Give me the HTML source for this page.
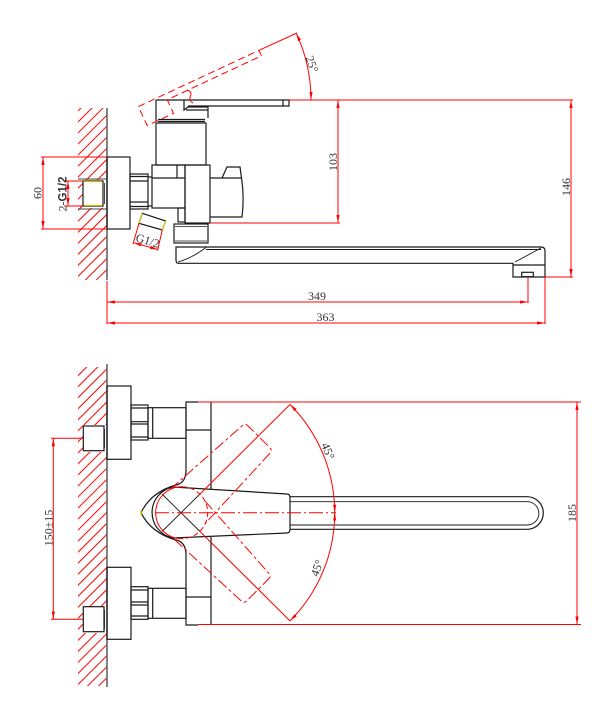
<!DOCTYPE html>
<html><head><meta charset="utf-8"><style>
html,body{margin:0;padding:0;background:#fff;}
svg{display:block;}
text{font-family:"Liberation Serif",serif;font-size:12px;fill:#333;}
</style></head><body>
<svg width="615" height="720" viewBox="0 0 615 720" xmlns="http://www.w3.org/2000/svg">
<defs>
<pattern id="hp" width="7.8" height="7.8" patternUnits="userSpaceOnUse" patternTransform="rotate(45)"><line x1="1" y1="0" x2="1" y2="7.8" stroke="#f00" stroke-width="1"/></pattern>
<marker id="ar" viewBox="0 0 10 4" refX="10" refY="2" markerWidth="8" markerHeight="3.2" markerUnits="userSpaceOnUse" orient="auto-start-reverse"><path d="M0,0L10,2L0,4z" fill="#f00"/></marker>
</defs>
<rect width="615" height="720" fill="#fff"/>

<!-- ============ TOP VIEW ============ -->
<rect x="78" y="108" width="29" height="172" fill="url(#hp)"/>
<rect x="83" y="180" width="24" height="28" fill="#fff"/>
<line x1="107" y1="108" x2="107" y2="280" stroke="#666" stroke-width="1.6"/>
<g stroke="#444" stroke-width="0.9">
<line x1="78" y1="179" x2="107" y2="179"/>
<line x1="78" y1="209" x2="107" y2="209"/>
</g>

<g fill="none" stroke="#1a1a1a" stroke-width="1.2">
<!-- fitting in wall -->
<rect x="83" y="181" width="20" height="25" fill="#fff"/>
<line x1="104.5" y1="183" x2="104.5" y2="204" stroke-width="0.8"/>
<!-- escutcheon -->
<rect x="107" y="157" width="23" height="72"/>
<!-- nipple -->
<rect x="130" y="174" width="18" height="35"/>
<line x1="130" y1="176.5" x2="148" y2="176.5"/>
<line x1="130" y1="181" x2="148" y2="181"/>
<line x1="130" y1="202" x2="148" y2="202"/>
<line x1="130" y1="206.5" x2="148" y2="206.5"/>
<line x1="148" y1="177" x2="152" y2="177"/>
<line x1="148" y1="206" x2="152" y2="206"/>
<!-- column -->
<rect x="156" y="123" width="50" height="42"/>
<line x1="158" y1="119.5" x2="205" y2="119.5"/>
<line x1="158" y1="121.5" x2="205" y2="121.5"/>
<!-- handle -->
<path d="M156,100 H289 V106 H188 M156,100 V121 M283,100 V106 M184,100 V110 L188,107 H208 V118 M186,110 H208"/>
<!-- body -->
<rect x="152" y="165" width="33" height="43"/>
<line x1="152" y1="178" x2="185" y2="178"/>
<line x1="177" y1="165" x2="177" y2="178"/>
<rect x="178" y="208" width="7" height="14"/>
<rect x="185" y="165" width="25" height="58"/>
<!-- knob -->
<path d="M210,178 H241.5 Q244.5,197 242,217 H210"/>
<path d="M222,178 L227,167 H240 L241.5,178"/>
<!-- nut -->
<rect x="174" y="224" width="34" height="19"/>
<line x1="175" y1="226.5" x2="207" y2="226.5" stroke-width="0.8"/>
<line x1="175" y1="241" x2="207" y2="241" stroke-width="0.8"/>
<!-- spout -->
<path d="M178,263.3 Q176,263 176,260 V247 H541 Q545,247 545,251 V277 H513 V263.3 Z"/>
<line x1="206" y1="249.5" x2="541" y2="249.5" stroke-width="0.9"/>
<line x1="513" y1="265" x2="545" y2="265"/>
<rect x="521.7" y="272.3" width="11.6" height="4.4"/>
<path d="M178,262 Q192,258 206,247.5" stroke-width="0.9"/>
<path d="M515,262 Q528,255 541,248" stroke-width="0.9"/>
<!-- angled G1/2 fitting -->
<polygon points="142.3,213.3 165.7,221 162.3,230 139,223.3" fill="#fff"/>
</g>
<line x1="165.7" y1="221" x2="162.3" y2="230" stroke="#e6d200" stroke-width="1.2"/>
<line x1="142.3" y1="213.3" x2="139" y2="223.3" stroke="#e6d200" stroke-width="1"/>
<line x1="84" y1="181.6" x2="102" y2="181.6" stroke="#e6d200" stroke-width="1"/>
<line x1="84" y1="205.4" x2="102" y2="205.4" stroke="#e6d200" stroke-width="1"/>

<!-- red dims top view -->
<g fill="none" stroke="#f00" stroke-width="1">
<path transform="rotate(-25 162 143)" d="M156,100 H289 V106 H185 V121 H156 Z" stroke-dasharray="7,4"/>
<path d="M187,90 Q193,92 190,97 Q189,101 193,103"/>
<line x1="259" y1="50.3" x2="297" y2="33"/>
<path d="M311,100 A158,158 0 0 0 296.2,33.2" marker-start="url(#ar)" marker-end="url(#ar)"/>
<line x1="289" y1="100" x2="573" y2="100"/>
<line x1="338" y1="100" x2="338" y2="223" marker-start="url(#ar)" marker-end="url(#ar)"/>
<line x1="210" y1="223" x2="340" y2="223"/>
<line x1="571" y1="100" x2="571" y2="277" marker-start="url(#ar)" marker-end="url(#ar)"/>
<line x1="545" y1="277" x2="573" y2="277"/>
<line x1="107" y1="281" x2="107" y2="324"/>
<line x1="528" y1="277" x2="528" y2="303"/>
<line x1="545" y1="277" x2="545" y2="324"/>
<line x1="107" y1="302" x2="528" y2="302" marker-start="url(#ar)" marker-end="url(#ar)"/>
<line x1="107" y1="323" x2="545" y2="323" marker-start="url(#ar)" marker-end="url(#ar)"/>
<!-- 60 -->
<line x1="41" y1="157" x2="107" y2="157"/>
<line x1="41" y1="229" x2="107" y2="229"/>
<line x1="43" y1="157" x2="43" y2="229" marker-start="url(#ar)" marker-end="url(#ar)"/>
<!-- 2-G1/2 -->
<line x1="64" y1="181" x2="83" y2="181"/>
<line x1="64" y1="206" x2="83" y2="206"/>
<line x1="68" y1="181" x2="68" y2="206" marker-start="url(#ar)" marker-end="url(#ar)"/>
<!-- G1/2 angled -->
<line x1="139" y1="223.3" x2="133" y2="244"/>
<line x1="162.3" y1="230" x2="157.5" y2="250.5"/>
<line x1="133.5" y1="242.7" x2="158" y2="249.5" marker-start="url(#ar)" marker-end="url(#ar)"/>
</g>

<!-- texts top view -->
<text transform="translate(41.5,193) rotate(-90)" text-anchor="middle">60</text>
<text transform="translate(66.5,194) rotate(-90)" text-anchor="middle">2-<tspan font-family="Liberation Sans" font-weight="bold" font-size="11.5">G1/2</tspan></text>
<text transform="translate(146.5,244.5) rotate(17)" text-anchor="middle" font-size="11.5">G1/2</text>
<text transform="translate(312,64) rotate(70)" text-anchor="middle" dominant-baseline="central" font-size="11.5">25°</text>
<text transform="translate(337,162) rotate(-90)" text-anchor="middle">103</text>
<text transform="translate(570,187) rotate(-90)" text-anchor="middle">146</text>
<text x="317" y="300" text-anchor="middle">349</text>
<text x="325.5" y="321" text-anchor="middle">363</text>

<!-- ============ BOTTOM VIEW ============ -->
<rect x="78" y="367" width="29" height="319" fill="url(#hp)"/>
<rect x="83" y="425" width="24" height="27" fill="#fff"/>
<rect x="83" y="606" width="24" height="27" fill="#fff"/>
<line x1="107" y1="364" x2="107" y2="687" stroke="#666" stroke-width="1.6"/>

<g fill="none" stroke="#1a1a1a" stroke-width="1.2">
<!-- fittings -->
<rect x="83.3" y="426" width="20.7" height="24.7" fill="#fff"/>
<rect x="83.3" y="606.7" width="20.7" height="25" fill="#fff"/>
<line x1="104.5" y1="429" x2="104.5" y2="448" stroke-width="0.8"/>
<line x1="104.5" y1="610" x2="104.5" y2="629" stroke-width="0.8"/>
<!-- escutcheons -->
<rect x="107" y="386" width="24" height="73.3"/>
<rect x="107" y="567.3" width="24" height="72"/>
<!-- nipples -->
<rect x="131" y="405" width="17" height="35"/>
<line x1="131" y1="408" x2="148" y2="408"/>
<line x1="131" y1="421.7" x2="148" y2="421.7"/>
<line x1="131" y1="424" x2="148" y2="424"/>
<line x1="131" y1="437" x2="148" y2="437"/>
<rect x="131" y="586.7" width="17" height="32.6"/>
<line x1="131" y1="590" x2="148" y2="590"/>
<line x1="131" y1="602" x2="148" y2="602"/>
<line x1="131" y1="605" x2="148" y2="605"/>
<line x1="131" y1="616" x2="148" y2="616"/>
<!-- connectors -->
<rect x="148" y="407.7" width="38" height="30.6"/>
<line x1="152.7" y1="407.7" x2="152.7" y2="438.3"/>
<rect x="148" y="588.3" width="38" height="30"/>
<line x1="152.7" y1="588.3" x2="152.7" y2="618.3"/>
<!-- body -->
<path d="M198,402 H186 V470 Q186,483 176,485 Q151,492 141,512.7 Q151,533 176,540 Q186,542 186,555 V625 H198"/>
<path d="M211,402 V490 M211,537 V625"/>
<line x1="186" y1="430" x2="211" y2="430"/>
<line x1="186" y1="597" x2="211" y2="597"/>
<!-- handle lever -->
<path d="M287,494 L173,487 A26,26 0 0 0 173,538 L287,533 Q290,533 290,529 V498 Q290,494 287,494 Z" fill="#fff"/>
<!-- rod -->
<path d="M290,496.7 H527 A16.3,16.3 0 0 1 527,529.3 H290"/>
<path d="M290,501.7 H528 A12,11.7 0 0 1 528,525 H290" stroke-width="0.9"/>
<!-- black X -->
<line x1="162" y1="494" x2="200" y2="531.5" stroke-width="0.9"/>
<line x1="162" y1="531.5" x2="200" y2="494" stroke-width="0.9"/>
</g>
<path d="M141,510 V515" stroke="#e6d200" stroke-width="1.5"/>

<g fill="none" stroke="#f00" stroke-width="1">
<line x1="198" y1="402" x2="581" y2="402"/>
<line x1="198" y1="624.5" x2="581" y2="624.5"/>
<line x1="577" y1="402" x2="577" y2="624.5" marker-start="url(#ar)" marker-end="url(#ar)"/>
<!-- handle circle -->
<path d="M181.7,486.7 A26,26 0 0 0 181.7,538.7"/>
<path d="M181.7,486.7 A26,26 0 0 1 181.7,538.7" stroke-dasharray="5,3"/>
<!-- rotated handles -->
<path transform="rotate(-45 181.7 512.7)" d="M190,488 L287,494 Q290,494 290,498 V529 Q290,533 287,533 L190,537" stroke-dasharray="11,3,3,3"/>
<path transform="rotate(45 181.7 512.7)" d="M190,488 L287,494 Q290,494 290,498 V529 Q290,533 287,533 L190,537" stroke-dasharray="11,3,3,3"/>
<!-- 45 deg lines -->
<line x1="200" y1="494" x2="290" y2="404.5"/>
<line x1="200" y1="531.5" x2="290" y2="620.9"/>
<line x1="155" y1="512.7" x2="336" y2="512.7" stroke-dasharray="14,3,2,3"/>
<path d="M290,404.5 A153,153 0 0 1 334.7,512.7" marker-start="url(#ar)" marker-end="url(#ar)"/>
<path d="M334.7,512.7 A153,153 0 0 1 290,620.9" marker-start="url(#ar)" marker-end="url(#ar)"/>
<!-- 150±15 -->
<line x1="51" y1="438.3" x2="83" y2="438.3"/>
<line x1="51" y1="619.3" x2="83" y2="619.3"/>
<line x1="53.3" y1="438.3" x2="53.3" y2="619.3" marker-start="url(#ar)" marker-end="url(#ar)"/>
</g>

<text transform="translate(52.5,528) rotate(-90)" text-anchor="middle">150±15</text>
<text transform="translate(576,513) rotate(-90)" text-anchor="middle">185</text>
<text transform="translate(328,451) rotate(68)" text-anchor="middle" dominant-baseline="central" font-size="11.5">45°</text>
<text transform="translate(317,568) rotate(-70)" text-anchor="middle" dominant-baseline="central" font-size="11.5">45°</text>
</svg>
</body></html>
